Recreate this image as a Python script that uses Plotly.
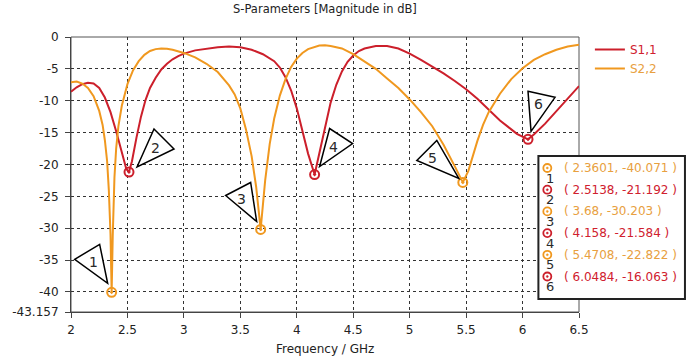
import plotly.graph_objects as go

# ---------------- data ----------------
s11_freq = [2.00, 2.05, 2.10, 2.15, 2.20, 2.25, 2.30, 2.35, 2.40, 2.45, 2.49, 2.5138, 2.54, 2.58,
            2.62, 2.66, 2.70, 2.75, 2.80, 2.85, 2.90, 2.95, 3.00, 3.10, 3.20, 3.30, 3.40, 3.50,
            3.60, 3.70, 3.80, 3.85, 3.90, 3.95, 4.00, 4.05, 4.10, 4.158, 4.20, 4.25, 4.30, 4.35,
            4.40, 4.45, 4.50, 4.55, 4.60, 4.70, 4.75, 4.80, 4.90, 5.00, 5.10, 5.20, 5.30, 5.40,
            5.50, 5.60, 5.70, 5.80, 5.90, 5.95, 6.0484, 6.10, 6.20, 6.30, 6.40, 6.50]
s11_db = [-8.6, -7.9, -7.4, -7.2, -7.3, -8.0, -9.5, -11.8, -14.8, -18.2, -20.7, -21.192, -19.5, -15.8,
          -12.5, -9.9, -8.0, -6.4, -5.1, -4.2, -3.5, -3.0, -2.6, -2.1, -1.8, -1.6, -1.5, -1.6,
          -2.0, -2.7, -3.8, -4.8, -6.3, -8.4, -11.2, -14.6, -18.3, -21.584, -18.3, -14.0, -10.3, -7.5,
          -5.4, -3.9, -2.9, -2.2, -1.8, -1.4, -1.35, -1.4, -1.8, -2.6, -3.6, -4.6, -5.7, -6.9,
          -8.2, -9.7, -11.4, -13.1, -14.5, -15.2, -16.063, -15.3, -13.6, -11.6, -9.6, -7.7]

s22_freq = [2.00, 2.05, 2.10, 2.15, 2.20, 2.25, 2.28, 2.30, 2.32, 2.335, 2.35, 2.3601, 2.37, 2.385,
            2.40, 2.42, 2.45, 2.50, 2.55, 2.60, 2.65, 2.70, 2.75, 2.80, 2.85, 2.90, 3.00, 3.10,
            3.20, 3.30, 3.40, 3.45, 3.50, 3.55, 3.60, 3.64, 3.68, 3.72, 3.76, 3.80, 3.85, 3.90,
            3.95, 4.00, 4.05, 4.10, 4.20, 4.25, 4.30, 4.40, 4.50, 4.60, 4.70, 4.80, 4.90, 5.00,
            5.10, 5.20, 5.30, 5.40, 5.4708, 5.52, 5.56, 5.60, 5.65, 5.70, 5.80, 5.90, 6.00, 6.10,
            6.20, 6.30, 6.40, 6.50]
s22_db = [-7.1, -7.0, -7.3, -8.0, -9.3, -11.6, -13.8, -16.2, -19.5, -24.0, -31.0, -40.071, -31.0, -22.0,
          -17.5, -14.0, -10.8, -7.4, -5.2, -3.8, -2.8, -2.2, -1.9, -1.8, -1.85, -2.0, -2.5, -3.2,
          -4.2, -5.5, -7.6, -9.0, -11.2, -14.5, -18.7, -23.5, -30.203, -22.5, -16.8, -12.8, -9.2, -6.6,
          -4.7, -3.4, -2.5, -1.9, -1.35, -1.3, -1.4, -1.8, -2.7, -3.8, -5.0, -6.5, -8.0, -9.8,
          -11.8, -14.0, -16.9, -20.3, -22.822, -21.0, -18.5, -16.3, -13.8, -11.8, -8.9, -6.6, -4.9, -3.6,
          -2.7, -2.0, -1.5, -1.2]

marker_ids = [1, 2, 3, 4, 5, 6]
marker_freq = [2.3601, 2.5138, 3.68, 4.158, 5.4708, 6.0484]
marker_db = [-40.071, -21.192, -30.203, -21.584, -22.822, -16.063]
marker_labels = ["2.3601", "2.5138", "3.68", "4.158", "5.4708", "6.0484"]
marker_vals = ["-40.071", "-21.192", "-30.203", "-21.584", "-22.822", "-16.063"]
marker_series = ["S2,2", "S1,1", "S2,2", "S1,1", "S2,2", "S1,1"]

x_ticks = [2, 2.5, 3, 3.5, 4, 4.5, 5, 5.5, 6, 6.5]
x_ticktext = ["2", "2.5", "3", "3.5", "4", "4.5", "5", "5.5", "6", "6.5"]
y_ticks = [0, -5, -10, -15, -20, -25, -30, -35, -40, -43.157]
y_ticktext = ["0", "-5", "-10", "-15", "-20", "-25", "-30", "-35", "-40", "-43.157"]

# ---------------- styles ----------------
RED = "#cc1f2b"
ORANGE = "#f0981f"
TXT_RED = "#d0202e"
TXT_ORANGE = "#e8a040"
FONT = "DejaVu Sans"
colors = {"S1,1": RED, "S2,2": ORANGE}
txtcolors = {"S1,1": TXT_RED, "S2,2": TXT_ORANGE}

# triangle pointer offsets (pixels, y up) relative to each marker, and label offset
tri_offsets = {
    1: ([(-37, 33), (-12, 48), (-4, 9)], (-18, 30)),
    2: ([(8, 5), (25, 43), (45, 23)], (26, 24)),
    3: ([(-35, 34), (-10, 47), (-4, 8)], (-19, 30)),
    4: ([(5, 8), (15, 46), (38, 31)], (19, 28)),
    5: ([(-46, 22), (-26, 42), (-4, 4)], (-30, 24)),
    6: ([(0, 48), (27, 42), (3, 8)], (10, 35)),
}

fig = go.Figure()
fig.add_trace(go.Scatter(x=s11_freq, y=s11_db, mode="lines",
                         name='<span style="color:%s">S1,1</span>' % TXT_RED,
                         line=dict(color=RED, width=2)))
fig.add_trace(go.Scatter(x=s22_freq, y=s22_db, mode="lines",
                         name='<span style="color:%s">S2,2</span>' % TXT_ORANGE,
                         line=dict(color=ORANGE, width=2)))
fig.add_trace(go.Scatter(x=marker_freq, y=marker_db, mode="markers", showlegend=False,
                         marker=dict(symbol="circle-open-dot", size=9,
                                     color=[colors[s] for s in marker_series],
                                     line=dict(width=2, color=[colors[s] for s in marker_series]))))

shapes = []
annotations = []
for mid, mf, mdb in zip(marker_ids, marker_freq, marker_db):
    pts, lab = tri_offsets[mid]
    path = "M %d,%d L %d,%d L %d,%d Z" % (pts[0][0], pts[0][1], pts[1][0], pts[1][1], pts[2][0], pts[2][1])
    shapes.append(dict(type="path", xref="x", yref="y", xsizemode="pixel", ysizemode="pixel",
                       xanchor=mf, yanchor=mdb, path=path, layer="above",
                       fillcolor="white", line=dict(color="black", width=1.5)))
    annotations.append(dict(x=mf, y=mdb, xref="x", yref="y", text=str(mid), showarrow=False,
                            xshift=lab[0], yshift=lab[1], font=dict(family=FONT, size=14, color="#2a2a2a")))

# plot area in pixels: x 66..579, y 37..312
PL, PR, PT, PB = 66, 579, 37, 312
def px(xp):
    return (xp - PL) / (PR - PL)
def py(yp):
    return (PB - yp) / (PB - PT)

# marker table box
shapes.append(dict(type="rect", xref="paper", yref="paper", x0=px(538), x1=px(686), y0=py(156), y1=py(299),
                   fillcolor="white", line=dict(color="#222", width=2), layer="above"))
row0, drow = 168, 21.7
for i, (mid, s) in enumerate(zip(marker_ids, marker_series)):
    yy = row0 + i * drow
    c = colors[s]
    shapes.append(dict(type="circle", xref="paper", yref="paper", xsizemode="pixel", ysizemode="pixel",
                       xanchor=px(547), yanchor=py(yy), x0=-4, x1=4, y0=-4, y1=4,
                       line=dict(color=c, width=1.8), layer="above"))
    shapes.append(dict(type="circle", xref="paper", yref="paper", xsizemode="pixel", ysizemode="pixel",
                       xanchor=px(547), yanchor=py(yy), x0=-1, x1=1, y0=-1, y1=1,
                       fillcolor=c, line=dict(color=c, width=0.5), layer="above"))
    annotations.append(dict(x=px(550), y=py(yy + 10), xref="paper", yref="paper", text=str(mid),
                            showarrow=False, xanchor="center", yanchor="middle",
                            font=dict(family=FONT, size=13, color="#2a2a2a")))
    annotations.append(dict(x=px(562), y=py(yy), xref="paper", yref="paper",
                            text="( %s, %s )" % (marker_labels[i], marker_vals[i]),
                            showarrow=False, xanchor="left", yanchor="middle",
                            font=dict(family=FONT, size=12, color=txtcolors[s])))

# title and x-axis title
annotations.append(dict(x=0.5, y=py(9), xref="paper", yref="paper", text="S-Parameters [Magnitude in dB]",
                        showarrow=False, xanchor="center", yanchor="middle",
                        font=dict(family=FONT, size=11.5, color="#222")))
annotations.append(dict(x=px(322), y=py(349), xref="paper", yref="paper", text="Frequency / GHz",
                        showarrow=False, xanchor="center", yanchor="middle",
                        font=dict(family=FONT, size=12, color="#222")))

fig.update_layout(
    width=687, height=357,
    margin=dict(l=PL, r=687 - PR, t=PT, b=357 - PB),
    paper_bgcolor="white", plot_bgcolor="white",
    font=dict(family=FONT, size=12, color="#222"),
    shapes=shapes, annotations=annotations,
    legend=dict(x=px(590), y=py(35), xanchor="left", yanchor="top", bgcolor="rgba(0,0,0,0)",
                font=dict(family=FONT, size=12), tracegroupgap=0, itemwidth=30),
    xaxis=dict(range=[2, 6.5], tickvals=x_ticks, ticktext=x_ticktext, showgrid=True,
               gridcolor="#333", griddash="3px,3px", gridwidth=1, zeroline=False,
               showline=True, linecolor="#444", linewidth=1, mirror=False,
               ticks="outside", ticklen=5, tickcolor="#444", ticklabelstandoff=2),
    yaxis=dict(range=[-43.157, 0], tickvals=y_ticks, ticktext=y_ticktext, showgrid=True,
               gridcolor="#333", griddash="3px,3px", gridwidth=1, zeroline=False,
               showline=True, linecolor="#444", linewidth=1, mirror=False,
               ticks="outside", ticklen=5, tickcolor="#444", ticklabelstandoff=4),
)
# frame top/right
fig.add_shape(type="rect", xref="paper", yref="paper", x0=0, x1=1, y0=0, y1=1,
              line=dict(color="#555", width=1), layer="below")

fig.write_html("out.html")
